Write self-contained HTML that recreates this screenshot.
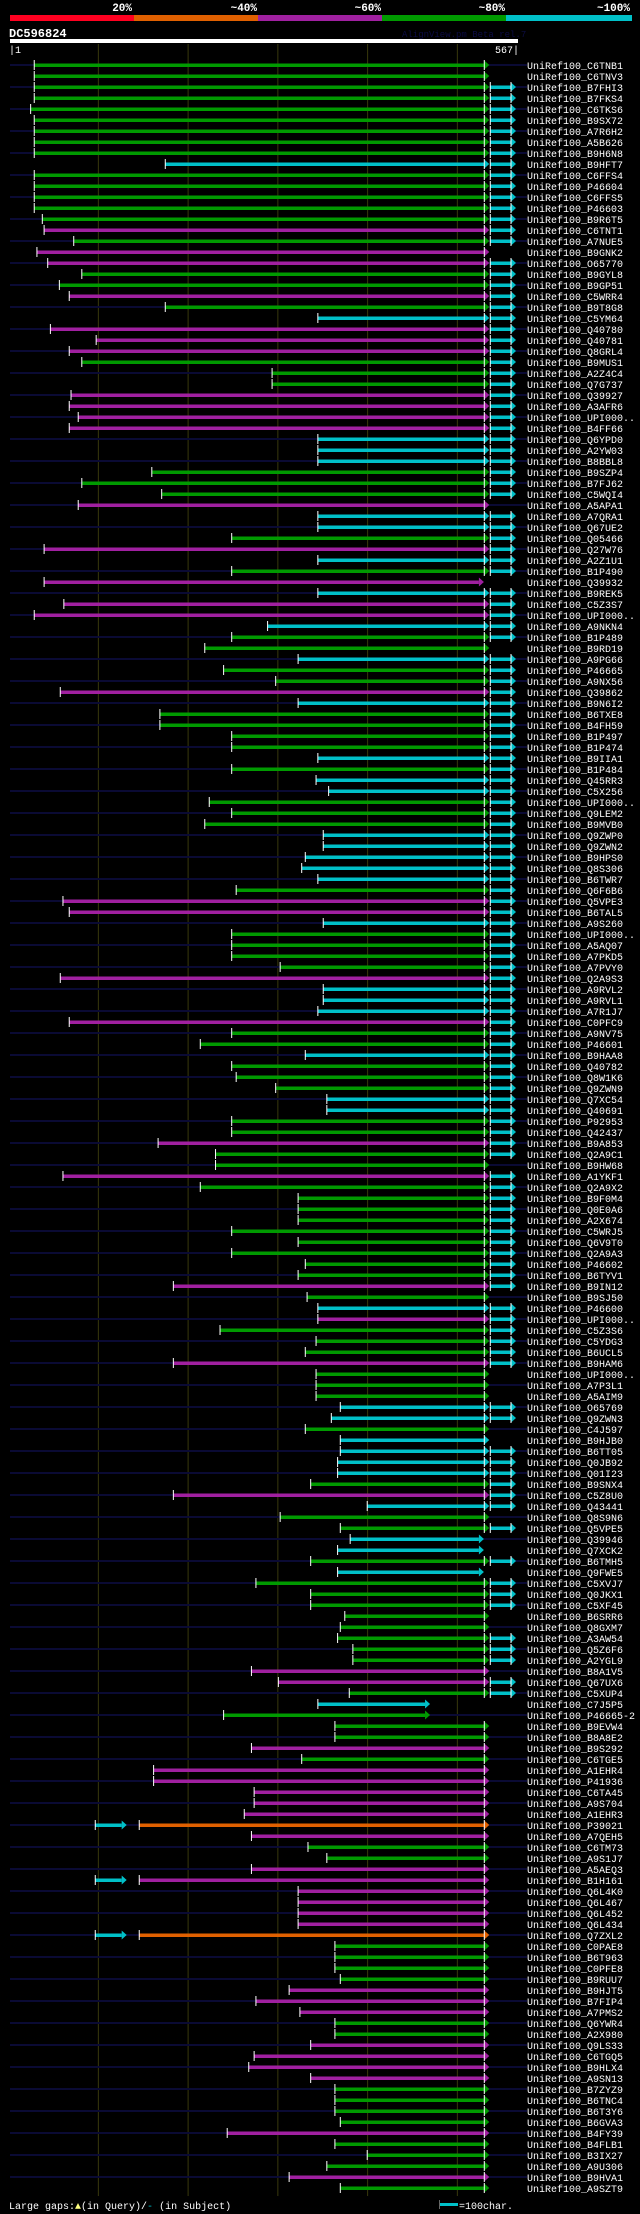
<!DOCTYPE html>
<html><head><meta charset="utf-8">
<style>
html,body{margin:0;padding:0;background:#000;}
svg{display:block;}
text{font-family:"Liberation Mono",monospace;}
</style></head>
<body>
<svg id="chart" width="640" height="2214" viewBox="0 0 640 2214" xmlns="http://www.w3.org/2000/svg">
  <rect x="0" y="0" width="640" height="2214" fill="#000"/>
  <g>
    <rect x="10" y="15" width="124" height="6" fill="#ff0020"/>
    <rect x="134" y="15" width="124" height="6" fill="#e06000"/>
    <rect x="258" y="15" width="124" height="6" fill="#a020a0"/>
    <rect x="382" y="15" width="124" height="6" fill="#009a00"/>
    <rect x="506" y="15" width="126" height="6" fill="#00c0c8"/>
    <g font-size="11" font-weight="bold" fill="#fff" text-anchor="end">
      <text x="132" y="11">20%</text>
      <text x="257" y="11">~40%</text>
      <text x="381" y="11">~60%</text>
      <text x="505" y="11">~80%</text>
      <text x="630" y="11">~100%</text>
    </g>
  </g>
  <text x="9" y="37" font-size="12" font-weight="bold" fill="#fff">DC596824</text>
  <text x="402" y="37" font-size="9" fill="#0c0c44">AlignView.pm Beta rel.7</text>
  <rect x="10" y="39" width="508" height="4" fill="#fff"/>
  <text x="9" y="53" font-size="10" fill="#fff">|1</text>
  <text x="519" y="53" font-size="10" fill="#fff" text-anchor="end">567|</text>
  <g id="grid"></g>
  <g id="rows"></g>
  <g>
    <text x="9" y="2209" font-size="10" fill="#fff">Large gaps:<tspan fill="#ffff80">▲</tspan>(in Query)/<tspan fill="#00c0c8">-</tspan> (in Subject)</text>
    <rect x="439" y="2200" width="1" height="9" fill="#666"/>
    <rect x="440" y="2203" width="18" height="3" fill="#00c0c8"/>
    <text x="459" y="2209" font-size="10" fill="#fff">=100char.</text>
  </g>
</svg>
<script>
const names = ["C6TNB1","C6TNV3","B7FHI3","B7FKS4","C6TKS6","B9SX72","A7R6H2","A5B626","B9H6N8","B9HFT7","C6FFS4","P46604","C6FFS5","P46603","B9R6T5","C6TNT1","A7NUE5","B9GNK2","O65770","B9GYL8","B9GP51","C5WRR4","B9T8G8","C5YM64","Q40780","Q40781","Q8GRL4","B9MUS1","A2Z4C4","Q7G737","Q39927","A3AFR6","UPI000..","B4FF66","Q6YPD0","A2YW03","B8BBL8","B9SZP4","B7FJ62","C5WQI4","A5APA1","A7QRA1","Q67UE2","Q05466","Q27W76","A2Z1U1","B1P490","Q39932","B9REK5","C5Z3S7","UPI000..","A9NKN4","B1P489","B9RD19","A9PG66","P46665","A9NX56","Q39862","B9N6I2","B6TXE8","B4FH59","B1P497","B1P474","B9IIA1","B1P484","Q45RR3","C5X256","UPI000..","Q9LEM2","B9MVB0","Q9ZWP0","Q9ZWN2","B9HPS0","Q8S306","B6TWR7","Q6F6B6","Q5VPE3","B6TAL5","A9S260","UPI000..","A5AQ07","A7PKD5","A7PVY0","Q2A9S3","A9RVL2","A9RVL1","A7R1J7","C0PFC9","A9NV75","P46601","B9HAA8","Q40782","Q8W1K6","Q9ZWN9","Q7XC54","Q40691","P92953","Q42437","B9A853","Q2A9C1","B9HW68","A1YKF1","Q2A9X2","B9F0M4","Q0E0A6","A2X674","C5WRJ5","Q6V9T0","Q2A9A3","P46602","B6TYV1","B9IN12","B9SJ50","P46600","UPI000..","C5Z3S6","C5YDG3","B6UCL5","B9HAM6","UPI000..","A7P3L1","A5AIM9","O65769","Q9ZWN3","C4J597","B9HJB0","B6TT05","Q0JB92","Q01I23","B9SNX4","C5Z8U0","Q43441","Q8S9N6","Q5VPE5","Q39946","Q7XCK2","B6TMH5","Q9FWE5","C5XVJ7","Q0JKX1","C5XF45","B6SRR6","Q8GXM7","A3AW54","Q5Z6F6","A2YGL9","B8A1V5","Q67UX6","C5XUP4","C7J5P5","P46665-2","B9EVW4","B8A8E2","B9S292","C6TGE5","A1EHR4","P41936","C6TA45","A9S704","A1EHR3","P39021","A7QEH5","C6TM73","A9S1J7","A5AEQ3","B1H161","Q6L4K0","Q6L467","Q6L452","Q6L434","Q7ZXL2","C0PAE8","B6T963","C0PFE8","B9RUU7","B9HJT5","B7FIP4","A7PMS2","Q6YWR4","A2X980","Q9LS33","C6TGQ5","B9HLX4","A9SN13","B7ZYZ9","B6TNC4","B6T3Y6","B6GVA3","B4FY39","B4FLB1","B3IX27","A9U306","B9HVA1","A9SZT9"];
// identity class per row: g=~80%, c=~100%, m=~60%, o=~40%
const identityRuns = ["ggggggggg","c","ggggg","m","g","mm","gg","m","g","c","mmm","ggg","mmmm","ccc","ggg","m","cc","g","m","c","g","m","c","mm","c","gg","c","gg","m","c","gggg","c","g","cc","ggg","ccccc","g","mm","c","gggg","m","ccc","m","gg","c","ggg","cc","gg","m","gg","m","ggggggggg","m","g","c","m","ggg","m","ggg","cc","g","cccc","g","m","c","gg","cc","g","c","gggggggg","mm","g","c","ggg","m","g","mmmmm","o","m","gg","mmmmmm","o","gggg","mmm","gg","mmmm","gggg","m","ggg","m","g"];
const starts = [28,28,28,28,24,28,28,28,28,174,28,28,28,28,37,39,72,31,43,81,56,67,174,344,46,97,67,81,293,293,69,67,77,67,344,344,344,159,81,170,77,344,344,248,39,344,248,39,344,61,28,288,248,218,322,239,297,57,322,168,168,248,248,344,248,342,356,223,248,218,350,350,330,326,344,253,60,67,350,248,248,248,302,57,350,350,344,67,248,213,330,248,253,297,354,354,248,248,166,230,230,60,213,322,322,322,248,322,248,330,322,183,332,344,344,235,342,330,183,342,342,342,369,359,330,369,369,366,366,336,183,399,302,369,380,366,336,366,275,336,336,374,369,366,383,383,270,300,379,344,239,363,363,270,326,161,161,273,273,262,145,270,333,354,270,145,322,322,322,322,145,363,363,363,369,312,275,324,363,363,336,273,267,336,363,363,363,369,243,363,399,354,312,369];
const ends = {47:529,134:529,135:529,137:529,149:469,150:469};
const noExtension = [0,1,17,40,47,53,100,112,119,120,121,124,125,132,134,135,137,141,142,146,149,150,151,152,153,154,155,156,157,158,159,160,161,162,163,164,165,166,167,168,169,170,171,172,173,174,175,176,177,178,179,180,181,182,183,184,185,186,187,188,189,190,191,192,193];
const preSegmentRows = [160,165,170];
const preSegment = [96,131];
const gridTicks = [100,200,300,400,500];
const queryLen = 567, defaultEnd = 535;

const identity = identityRuns.join('');
if (identity.length !== names.length) console.error('identity length mismatch', identity.length, names.length);
const colors = {g:"#009a00",c:"#00c0c8",m:"#a020a0",o:"#e06000",r:"#ff0020"};
const X0 = 10, X1 = 518;
function xs(p){ return X0 + (p-1)*(X1-X0)/(queryLen-1); }
function rowY(i){ return 65 + i*11; }
const NS = "http://www.w3.org/2000/svg";
function mk(tag, attrs, parent){
  const el = document.createElementNS(NS, tag);
  for (const k in attrs) el.setAttribute(k, attrs[k]);
  parent.appendChild(el);
  return el;
}
const grid = document.getElementById('grid');
gridTicks.forEach(t => {
  const l = mk('line', {x1:xs(t)-0.5, x2:xs(t)-0.5, y1:44, y2:2196, stroke:'#38380c', 'stroke-width':1}, grid);
  
  
});
const rowsG = document.getElementById('rows');
function arrow(x, y, color, g){
  return mk('polygon', {points:`${x},${y-4.5} ${x+5},${y} ${x},${y+4.5}`, fill:color}, g);
}
names.forEach((nm, i) => {
  const y = rowY(i);
  const c = colors[identity[i]] || colors.g;
  const g = mk('g', {}, rowsG);
  
  
  if (i % 2 === 0) {
    const bg = mk('rect', {x:10, y:y-1, width:517, height:2, fill:'#0a0a34'}, g);
    
    
  }
  if (preSegmentRows.includes(i)) {
    const a = xs(preSegment[0]), b = xs(preSegment[1]);
    mk('rect', {x:a, y:y-1.5, width:b-a-5, height:3.5, fill:colors.c}, g);
    arrow(b-5, y, colors.c, g);
    mk('rect', {x:a-0.5, y:y-5, width:1, height:10, fill:'#fff'}, g);
  }
  const sx = xs(starts[i]);
  const ex = xs(ends[i] || defaultEnd);
  const bar = mk('rect', {x:sx, y:y-1.5, width:Math.max(0, ex-sx-5), height:3.5, fill:c}, g);
  
  
  arrow(ex-5, y, c, g);
  mk('rect', {x:sx-0.5, y:y-5, width:1, height:10, fill:'#fff'}, g);
  if (!ends[i]) mk('rect', {x:ex-5.5, y:y-5, width:1, height:10, fill:'#fff'}, g);
  if (!noExtension.includes(i)) {
    const e2 = xs(queryLen) - 2;
    mk('rect', {x:ex+1, y:y-1.5, width:e2-ex-6, height:3.5, fill:colors.c}, g);
    arrow(e2-5, y, colors.c, g);
    mk('rect', {x:ex+0.5, y:y-5, width:1, height:10, fill:'#fff'}, g);
    mk('rect', {x:e2-5.5, y:y-5, width:1, height:10, fill:'#fff'}, g);
  }
  const t = mk('text', {x:527, y:y+4, 'font-size':10, fill:'#fff'}, g);
  t.textContent = 'UniRef100_' + nm;
  
  
});
</script>
</body></html>
